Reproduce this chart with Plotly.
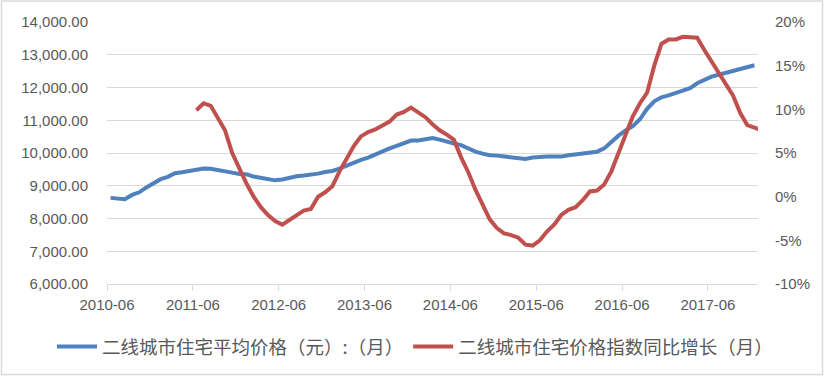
import plotly.graph_objects as go

# ---- data (monthly, 2010-06 .. 2017-12) ----
start_year, start_month = 2010, 6

price = [
    8630, 8595, 8590, 8720, 8800, 8950, 9080, 9200, 9270, 9380,
    9410, 9440, 9500, 9525, 9520, 9490, 9450, 9400, 9360, 9350,
    9280, 9240, 9210, 9165, 9190, 9250, 9290, 9310, 9325, 9370,
    9420, 9450, 9520, 9620, 9710, 9790, 9860, 9960, 10060, 10140,
    10220, 10310, 10380, 10380, 10410, 10460, 10410, 10340, 10290, 10240,
    10130, 10040, 9980, 9930, 9920, 9900, 9860, 9830, 9820, 9860,
    9890, 9890, 9890, 9890, 9930, 9950, 9990, 9990, 10040, 10140,
    10350, 10530, 10690, 10820, 11030, 11350, 11580, 11700, 11760, 11830,
    11880, 11980, 12130, 12230, 12330, 12390, 12450, 12510, 12550, 12620,
    12680,
]

# YoY growth (%), starts 2011-06 (index 12)
growth_start = 12
growth = [
    9.9, 10.7, 10.4, 8.9, 7.6, 5.0, 3.2, 1.5, 0.0, -1.2,
    -2.1, -2.8, -3.2, -2.7, -2.2, -1.6, -1.4, 0.0, 0.5, 1.2,
    2.9, 4.3, 5.8, 6.9, 7.4, 7.7, 8.2, 8.6, 9.4, 9.7,
    10.2, 9.7, 9.1, 8.3, 7.6, 7.1, 6.5, 4.5, 2.8, 0.8,
    -0.9, -2.6, -3.6, -4.2, -4.4, -4.7, -5.5, -5.6, -5.0, -4.0,
    -3.2, -2.1, -1.5, -1.2, -0.4, 0.6, 0.7, 1.4, 2.9, 5.0,
    7.2, 9.2, 10.7, 11.9, 15.0, 17.5, 18.0, 18.0, 18.3, 18.2,
    18.2, 16.8, 15.5, 14.2, 13.0, 11.6, 9.6, 8.2, 7.9, 7.6,
]

x_tick_labels = ["2010-06", "2011-06", "2012-06", "2013-06",
                 "2014-06", "2015-06", "2016-06", "2017-06"]
left_tick_vals = [6000, 7000, 8000, 9000, 10000, 11000, 12000, 13000, 14000]
right_tick_vals = [-10, -5, 0, 5, 10, 15, 20]
right_tick_labels = ["-10%", "-5%", "0%", "5%", "10%", "15%", "20%"]

name_price = "二线城市住宅平均价格（元）:（月）"
name_growth = "二线城市住宅价格指数同比增长（月）"

# months positioned mid-month on the time axis
x_price = [i + 0.5 for i in range(len(price))]
x_growth = [growth_start + i + 0.5 for i in range(len(growth))]

BLUE = "#4F81BD"
RED = "#C0504D"
GRID = "#D9D9D9"
TXT = "#595959"
TICKFONT = dict(family="Liberation Sans, Arial, sans-serif", size=15, color=TXT)

W, H = 825, 377
L, R, T, B = 107, 67, 22, 93
PW, PH = W - L - R, H - T - B

fig = go.Figure()
fig.add_trace(go.Scatter(x=x_price, y=price, mode="lines", name=name_price,
                         line=dict(color=BLUE, width=4), yaxis="y"))
fig.add_trace(go.Scatter(x=x_growth, y=growth, mode="lines", name=name_growth,
                         line=dict(color=RED, width=4), yaxis="y2"))

fig.update_layout(
    width=W, height=H,
    margin=dict(l=L, r=R, t=T, b=B, autoexpand=False),
    paper_bgcolor="white", plot_bgcolor="white",
    showlegend=True,
    legend=dict(orientation="h", x=(52 - L) / PW, xanchor="left",
                y=-(347 - (H - B)) / PH, yanchor="middle",
                font=dict(family="Noto Sans CJK SC", size=18.5, color=TXT),
                itemwidth=40, tracegroupgap=0, bgcolor="rgba(0,0,0,0)"),
    xaxis=dict(range=[0, 91], tickvals=[12 * k for k in range(len(x_tick_labels))],
               ticktext=x_tick_labels, showgrid=False, zeroline=False,
               showline=True, linecolor=GRID, linewidth=1,
               ticks="outside", ticklen=6, tickcolor=GRID, tickwidth=1,
               tickfont=TICKFONT, ticklabelstandoff=1, automargin=False),
    yaxis=dict(range=[6000, 14000], tickvals=left_tick_vals, tickformat=",.2f",
               showgrid=True, gridcolor=GRID, gridwidth=1, zeroline=False,
               showline=False, ticks="", tickfont=TICKFONT, ticklabelstandoff=18,
               automargin=False),
    yaxis2=dict(range=[-10, 20], overlaying="y", side="right",
                tickvals=right_tick_vals, ticktext=right_tick_labels,
                showgrid=False, zeroline=False, showline=False, ticks="",
                tickfont=TICKFONT, ticklabelstandoff=16, automargin=False),
    shapes=[dict(type="rect", xref="paper", yref="paper",
                 x0=(1.5 - L) / PW, x1=(822.5 - L) / PW,
                 y0=-(374.5 - (H - B)) / PH, y1=((H - B) - 1) / PH,
                 line=dict(color=GRID, width=1.5), fillcolor="rgba(0,0,0,0)",
                 layer="below")],
)

fig.write_html("out.html", config={"displayModeBar": False},
               post_script="document.body.style.margin='0';document.body.style.padding='0';")
